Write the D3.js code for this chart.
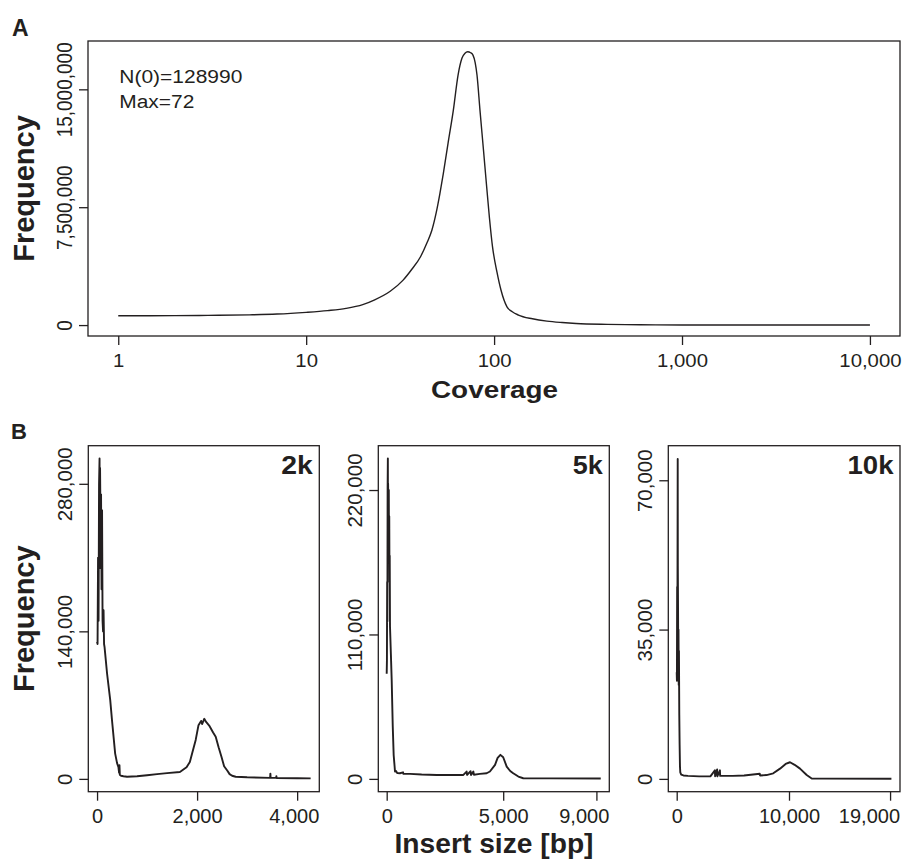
<!DOCTYPE html>
<html>
<head>
<meta charset="utf-8">
<script src="https://cdn.jsdelivr.net/npm/d3@7"></script>
<style>
  body { margin: 0; background: #ffffff; }
  svg { display: block; }
  text { font-family: 'Liberation Sans', Arial, Helvetica, sans-serif; fill: #231f20; }
</style>
</head>
<body>
<svg id="chart" width="902" height="861"></svg>
<script>
// ---------------- DATA ----------------
// Panel A: coverage distribution
const coverage = [1, 2, 3, 5, 7, 10, 13, 16.3, 20, 23, 28, 32.8, 36.5, 40.6, 44, 46.7, 49.2, 51.5, 53.7, 56.9, 60.7, 64.3, 67.5, 70, 72.4, 75, 77.2, 79.3, 81.1, 84.1, 87.8, 91.3, 94.5, 98.1, 103.6, 108.8, 117.1, 125, 134.7, 160, 191, 230, 273, 400, 600, 1000, 3000, 10000];
const coverageFreq = [590000, 600000, 615000, 650000, 700000, 810000, 920000, 1060000, 1300000, 1590000, 2150000, 2860000, 3550000, 4350000, 5250000, 6050000, 7150000, 8380000, 9650000, 11580000, 13680000, 15910000, 16990000, 17300000, 17390000, 17330000, 17180000, 16700000, 15910000, 13680000, 11140000, 8800000, 6800000, 4980000, 3370000, 2230000, 1160000, 850000, 640000, 400000, 250000, 160000, 100000, 45000, 20000, 8000, 2000, 0];
const coverageTicks = [1, 10, 100, 1000, 10000];
const coverageFreqTicks = [0, 7500000, 15000000];
const panelANotes = ["N(0)=128990", "Max=72"];

// Panel B: insert size distributions
const libNames = ["2k", "5k", "10k"];
const bp2k = [0, 10, 20, 30, 40, 50, 55, 60, 70, 80, 90, 100, 110, 120, 130, 140, 150, 200, 263, 300, 362, 400, 428, 440, 448, 455, 480, 527, 600, 800, 1000, 1200, 1400, 1656, 1789, 1855, 1900, 1972, 2028, 2080, 2100, 2143, 2180, 2250, 2320, 2372, 2430, 2487, 2540, 2602, 2650, 2700, 2771, 3000, 3460, 3465, 3470, 3580, 3585, 3590, 4000, 4270];
const count2k = [130000, 128000, 210000, 150000, 280000, 304000, 200000, 295000, 240000, 270000, 180000, 255000, 150000, 140000, 160000, 128000, 125000, 100000, 75000, 55000, 24000, 15000, 11000, 6000, 13000, 4000, 3000, 2500, 2000, 2500, 3500, 4500, 5500, 6600, 11000, 16000, 24000, 37000, 51000, 55000, 52000, 57000, 54000, 50000, 44000, 40000, 30000, 21000, 12000, 8000, 4500, 3000, 2000, 1500, 1000, 5000, 1000, 1000, 2500, 800, 600, 500];
const bp5k = [0, 10, 20, 30, 40, 50, 55, 60, 70, 80, 90, 100, 110, 120, 130, 142, 180, 215, 260, 300, 340, 356, 400, 450, 570, 700, 720, 1000, 1500, 2146, 2800, 3290, 3430, 3450, 3600, 3620, 3720, 3740, 4000, 4290, 4430, 4650, 4760, 4880, 5000, 5150, 5300, 5430, 5650, 5860, 7000, 9186];
const count5k = [80000, 90000, 150000, 120000, 222000, 244000, 190000, 225000, 210000, 175000, 220000, 165000, 200000, 150000, 170000, 116000, 95000, 75000, 40000, 18000, 9400, 5600, 6000, 4500, 4300, 5000, 3800, 3800, 3300, 3000, 3000, 3000, 5600, 3000, 5800, 3000, 5600, 3200, 3800, 4300, 5600, 10700, 16000, 18300, 16500, 9400, 6000, 4300, 1800, 500, 400, 300];
const bp10k = [0, 20, 40, 60, 80, 90, 100, 120, 140, 160, 180, 200, 230, 260, 290, 320, 400, 600, 1000, 2000, 3000, 3400, 3420, 3600, 3620, 3850, 3870, 5000, 6000, 7400, 7420, 8000, 8600, 9200, 9700, 10090, 10500, 10980, 11575, 12020, 13000, 19120];
const count10k = [25000, 23000, 45000, 30000, 60000, 75000, 50000, 40000, 28000, 35000, 22000, 30000, 15000, 8000, 3000, 1500, 1000, 800, 700, 600, 600, 2000, 600, 2200, 600, 2000, 700, 700, 800, 1200, 800, 900, 1300, 2400, 3500, 3900, 3300, 2400, 900, 100, 50, 20];
const bpTicks = [[0, 2000, 4000], [0, 5000, 9000], [0, 10000, 19000]];
const countTicks = [[0, 140000, 280000], [0, 110000, 220000], [0, 35000, 70000]];
const xLimsB = [[-4, 4272], [7, 9186], [16, 19120]];
const yLimsB = [[0, 304000], [0, 244000], [0, 75100]];

// ---------------- DRAWING ----------------
const ink = "#231f20";
const svg = d3.select("#chart");
const fmt = d3.format(",");
const pad = (lo, hi) => { const r = hi - lo; return [lo - 0.04 * r, hi + 0.04 * r]; };

function stretchText(sel, x, y, k, rot) {
  sel.attr("x", 0).attr("y", 0)
     .attr("transform", `translate(${x},${y}) scale(${k},1)` + (rot ? " rotate(-90)" : ""));
}

function frame(g, box) {
  g.append("rect").attr("x", box.x0).attr("y", box.y0)
    .attr("width", box.x1 - box.x0).attr("height", box.y1 - box.y0)
    .attr("fill", "none").attr("stroke", ink).attr("stroke-width", 1.3);
}

function axes(g, x, y, xt, yt, box, fs, fsy, k, fitRight) {
  const ax = g.append("g").attr("transform", `translate(0,${box.y1})`)
    .call(d3.axisBottom(x).tickValues(xt).tickSize(9).tickSizeOuter(0).tickFormat(fmt));
  ax.select(".domain").remove();
  ax.selectAll(".tick line").attr("stroke", ink).attr("stroke-width", 1.3);
  const n = xt.length;
  ax.selectAll(".tick text").each(function (d, i) {
    const t = d3.select(this);
    t.attr("dy", null).attr("font-size", fs).attr("fill", ink);
    if (fitRight && i === n - 1) {
      // last label kept inside the frame's right edge, as in the reference
      t.attr("text-anchor", "end");
      stretchText(t, box.x1 - 0.5 - x(d), 31.3, k, false);
    } else {
      t.attr("text-anchor", "middle");
      stretchText(t, 0, 31.3, k, false);
    }
  });
  const ay = g.append("g").attr("transform", `translate(${box.x0},0)`)
    .call(d3.axisLeft(y).tickValues(yt).tickSize(9).tickSizeOuter(0).tickFormat(fmt));
  ay.select(".domain").remove();
  ay.selectAll(".tick line").attr("stroke", ink).attr("stroke-width", 1.3);
  ay.selectAll(".tick text").each(function () {
    const t = d3.select(this);
    t.attr("dy", null).attr("font-size", fsy).attr("text-anchor", "middle").attr("fill", ink);
    stretchText(t, -16.5, 0, k, true);
  });
}

// ----- Panel A -----
const boxA = { x0: 88, x1: 900, y0: 41, y1: 336 };
const xA = d3.scaleLog().domain([Math.pow(10, -0.161), Math.pow(10, 4.16)]).range([boxA.x0, boxA.x1]);
const yA = d3.scaleLinear().domain(pad(0, 17380000)).range([boxA.y1, boxA.y0]);
const gA = svg.append("g");
const ptsA = coverage.map((c, i) => [c, coverageFreq[i]]);
gA.append("path").datum(ptsA)
  .attr("fill", "none").attr("stroke", ink).attr("stroke-width", 1.4)
  .attr("d", d3.line().x(d => xA(d[0])).y(d => yA(d[1])).curve(d3.curveMonotoneX));
frame(gA, boxA);
axes(gA, xA, yA, coverageTicks, coverageFreqTicks, boxA, 18, 19, 1.13, false);

panelANotes.forEach((s, i) => {
  gA.append("text").attr("x", 119.3).attr("y", 83 + i * 25).attr("font-size", 18)
    .attr("textLength", i === 0 ? 123 : 75).attr("lengthAdjust", "spacingAndGlyphs").text(s);
});
gA.append("text").attr("x", 494.5).attr("y", 397.5).attr("font-size", 24.5).attr("font-weight", "bold")
  .attr("text-anchor", "middle").attr("textLength", 127).attr("lengthAdjust", "spacingAndGlyphs").text("Coverage");
gA.append("text").attr("transform", `translate(34,${(boxA.y0 + boxA.y1) / 2}) rotate(-90)`)
  .attr("font-size", 29).attr("font-weight", "bold").attr("text-anchor", "middle").text("Frequency");
gA.append("text").attr("x", 12).attr("y", 35.5).attr("font-size", 23).attr("font-weight", "bold").text("A");

// ----- Panel B -----
const boxesB = [
  { x0: 88.3, x1: 319.3, y0: 445.7, y1: 791.7 },
  { x0: 378.3, x1: 609.3, y0: 445.7, y1: 791.7 },
  { x0: 668.3, x1: 900, y0: 445.7, y1: 791.7 }
];
const seriesB = [[bp2k, count2k], [bp5k, count5k], [bp10k, count10k]];
const labelW = [31.5, 30, 46];
const gB = svg.append("g");
boxesB.forEach((box, i) => {
  const x = d3.scaleLinear().domain(pad(xLimsB[i][0], xLimsB[i][1])).range([box.x0, box.x1]);
  const y = d3.scaleLinear().domain(pad(yLimsB[i][0], yLimsB[i][1])).range([box.y1, box.y0]);
  const g = gB.append("g");
  const pts = seriesB[i][0].map((b, j) => [b, seriesB[i][1][j]]);
  g.append("path").datum(pts)
    .attr("fill", "none").attr("stroke", ink).attr("stroke-width", 1.9).attr("stroke-linejoin", "round")
    .attr("d", d3.line().x(d => x(d[0])).y(d => y(d[1])));
  frame(g, box);
  axes(g, x, y, bpTicks[i], countTicks[i], box, 20, 20.5, 1.0, true);
  g.append("text").attr("x", box.x1 - 6.5 - labelW[i]).attr("y", 473.5)
    .attr("font-size", 25).attr("font-weight", "bold")
    .attr("textLength", labelW[i]).attr("lengthAdjust", "spacingAndGlyphs").text(libNames[i]);
});
gB.append("text").attr("transform", `translate(34,${(boxesB[0].y0 + boxesB[0].y1) / 2}) rotate(-90)`)
  .attr("font-size", 29).attr("font-weight", "bold").attr("text-anchor", "middle").text("Frequency");
gB.append("text").attr("x", 494).attr("y", 853).attr("font-size", 28).attr("font-weight", "bold")
  .attr("text-anchor", "middle").attr("textLength", 199).attr("lengthAdjust", "spacingAndGlyphs").text("Insert size [bp]");
gB.append("text").attr("x", 11).attr("y", 438.5).attr("font-size", 22).attr("font-weight", "bold").text("B");
</script>
</body>
</html>
